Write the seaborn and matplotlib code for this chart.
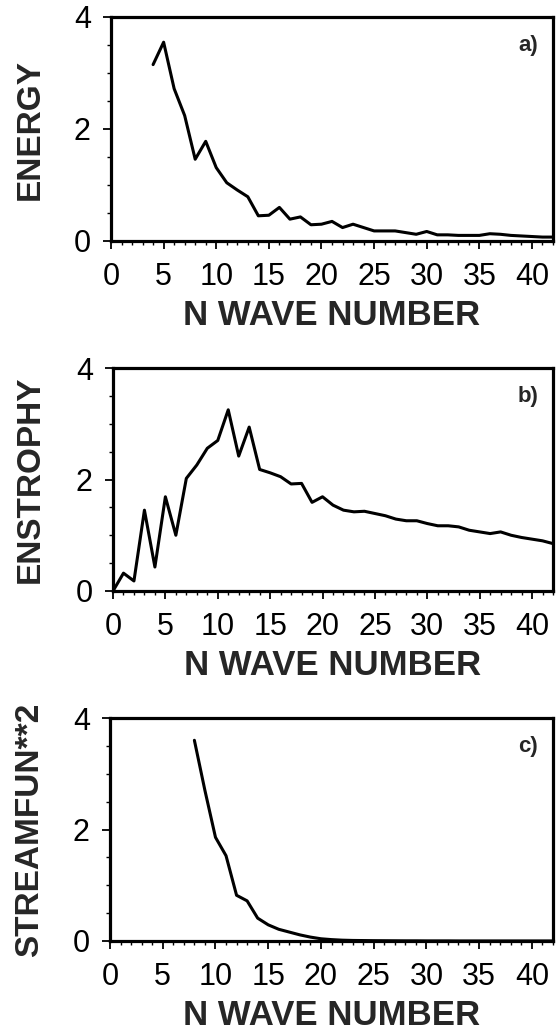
import matplotlib
matplotlib.use("Agg")
import matplotlib.pyplot as plt
from matplotlib.ticker import MultipleLocator
import numpy as np
import pandas as pd
import seaborn as sns

# Wavenumber spectra of the flow
energy_n = list(range(4, 43))
energy = [3.15, 3.55, 2.72, 2.24, 1.46, 1.78, 1.31, 1.04, 0.91, 0.79,
          0.45, 0.46, 0.60, 0.39, 0.43, 0.29, 0.30, 0.35, 0.24, 0.30,
          0.24, 0.18, 0.18, 0.18, 0.15, 0.12, 0.17, 0.11, 0.11, 0.10,
          0.10, 0.10, 0.13, 0.12, 0.10, 0.09, 0.08, 0.07, 0.07]

enstrophy_n = list(range(0, 43))
enstrophy = [0.00, 0.32, 0.18, 1.45, 0.43, 1.69, 1.00, 2.02, 2.26, 2.56,
             2.70, 3.25, 2.42, 2.94, 2.18, 2.12, 2.05, 1.92, 1.93, 1.59,
             1.69, 1.54, 1.45, 1.42, 1.43, 1.39, 1.35, 1.29, 1.26, 1.26,
             1.21, 1.17, 1.17, 1.15, 1.09, 1.06, 1.03, 1.06, 1.00, 0.96,
             0.93, 0.90, 0.85]

stream_n = list(range(8, 43))
stream_sq = [3.60, 2.70, 1.86, 1.53, 0.82, 0.72, 0.41, 0.29, 0.21, 0.16,
             0.11, 0.07, 0.04, 0.025, 0.015, 0.010, 0.008, 0.006, 0.005, 0.004,
             0.003, 0.003, 0.002, 0.002, 0.002, 0.001, 0.001, 0.001, 0.001, 0.001,
             0.001, 0.001, 0.001, 0.001, 0.001]

y_titles = ["ENERGY", "ENSTROPHY", "STREAMFUN**2"]
panel_tags = ["a)", "b)", "c)"]
x_title = "N WAVE NUMBER"
x_ticks = [0, 5, 10, 15, 20, 25, 30, 35, 40]
y_ticks = [0, 2, 4]

sns.set_theme(style="ticks")
plt.rcParams["font.family"] = ["Liberation Sans", "DejaVu Sans"]

W, H = 559, 1030
fig = plt.figure(figsize=(W / 100, H / 100), dpi=100)

# axes boxes in pixels: left, top, right, bottom
boxes = [(111, 17, 553, 241), (113, 368, 553, 591), (110, 718, 553, 941)]
series = [(energy_n, energy), (enstrophy_n, enstrophy), (stream_n, stream_sq)]

for (l, t, r, b), (xs, ys), ytitle, tag in zip(boxes, series, y_titles, panel_tags):
    ax = fig.add_axes([l / W, 1 - b / H, (r - l) / W, (b - t) / H])
    df = pd.DataFrame({"n": xs, "v": ys})
    sns.lineplot(data=df, x="n", y="v", ax=ax, color="black", lw=2.2)
    ax.set_xlim(0, 42)
    ax.set_ylim(0, 4)
    ax.set_xticks(x_ticks)
    ax.set_yticks(y_ticks)
    ax.xaxis.set_minor_locator(MultipleLocator(1))
    ax.yaxis.set_minor_locator(MultipleLocator(0.5))
    ax.tick_params(which="major", direction="out", length=6, width=1.3,
                   labelsize=22, color="black", labelcolor="black")
    ax.tick_params(axis="x", which="major", pad=9)
    ax.tick_params(axis="y", which="major", pad=8.5)
    ax.tick_params(which="minor", direction="out", length=3, width=1.0, color="black")
    for s in ax.spines.values():
        s.set_visible(True)
        s.set_linewidth(2.3)
        s.set_color("black")
    ax.set_xlabel("")
    ax.set_ylabel("")
    ax.text(0.966, 0.92, tag, transform=ax.transAxes, ha="right", va="top",
            fontsize=16, fontweight="bold")
    # axis titles
    fig.text(30 / W, 1 - ((t + b) / 2) / H, ytitle, rotation=90, ha="center",
             va="center", fontsize=24, fontweight="bold")
    fig.text(((l + r) / 2) / W, 1 - (b + 84) / H, x_title, ha="center",
             va="baseline", fontsize=25, fontweight="bold")

fig.savefig("out.png", dpi=100, facecolor="white")
